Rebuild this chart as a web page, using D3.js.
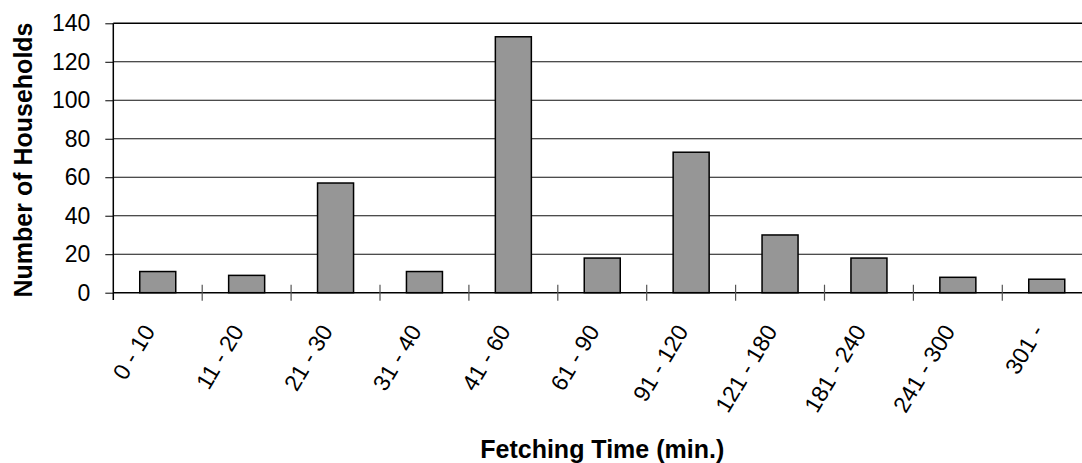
<!DOCTYPE html>
<html>
<head>
<meta charset="utf-8">
<script src="https://cdn.jsdelivr.net/npm/d3@7"></script>
<style>
  html, body { margin: 0; padding: 0; background: #fff; }
  svg { display: block; font-family: "Liberation Sans", Arial, sans-serif; }
</style>
</head>
<body>
<svg id="chart" width="1082" height="463"></svg>
<script>
const categories = ["0 - 10", "11 - 20", "21 - 30", "31 - 40", "41 - 60", "61 - 90", "91 - 120", "121 - 180", "181 - 240", "241 - 300", "301 -"];
const households = [11, 9, 57, 11, 133, 18, 73, 30, 18, 8, 7];
const yTicks = [0, 20, 40, 60, 80, 100, 120, 140];
const xTitle = "Fetching Time (min.)";
const yTitle = "Number of Households";

(function () {
const svg = d3.select("#chart");
const pLeft = 113.3, pRight = 1091.2, pTop = 23.3, pBottom = 292.7;

const x = d3.scaleBand().domain(categories).range([pLeft, pRight])
  .paddingInner(0.595).paddingOuter(0.2975);
const step = x.step();
const y = d3.scaleLinear().domain([0, 140]).range([pBottom, pTop]);

// gridlines
svg.append("g").selectAll("line").data(yTicks.filter(d => d > 0)).join("line")
  .attr("x1", pLeft).attr("x2", 1082)
  .attr("y1", d => y(d)).attr("y2", d => y(d))
  .attr("stroke", d => d === 140 ? "#000" : "#111")
  .attr("stroke-width", d => d === 140 ? 1.6 : 1.1);

// y axis
const yAxis = d3.axisLeft(y).tickValues(yTicks).tickSize(8).tickPadding(15);
const gy = svg.append("g").attr("transform", `translate(${pLeft},0)`).call(yAxis);
gy.select(".domain").remove();
gy.selectAll(".tick line").attr("stroke", "#000");
gy.selectAll(".tick text").attr("font-size", 23).attr("fill", "#000")
  .attr("font-family", "'Liberation Sans', Arial, sans-serif");

// bars
svg.append("g").selectAll("rect").data(households).join("rect")
  .attr("x", (d, i) => x(categories[i]))
  .attr("width", x.bandwidth())
  .attr("y", d => y(d))
  .attr("height", d => y(0) - y(d))
  .attr("fill", "#969696")
  .attr("stroke", "#000")
  .attr("stroke-width", 1.5);

// x axis line
svg.append("line").attr("x1", pLeft).attr("x2", 1082)
  .attr("y1", pBottom).attr("y2", pBottom).attr("stroke", "#000").attr("stroke-width", 1.5);
// y axis line
svg.append("line").attr("x1", pLeft).attr("x2", pLeft)
  .attr("y1", pTop).attr("y2", 300).attr("stroke", "#000").attr("stroke-width", 1.5);

// category boundary ticks
const boundaries = categories.slice(1).map(c => x(c) - step * x.paddingInner() / 2);
svg.append("g").selectAll("line").data(boundaries).join("line")
  .attr("x1", d => d).attr("x2", d => d)
  .attr("y1", pBottom - 8).attr("y2", pBottom + 8)
  .attr("stroke", "#555").attr("stroke-width", 1.2);

// x tick labels
svg.append("g").selectAll("text").data(categories).join("text")
  .attr("transform", d => `translate(${x(d) + x.bandwidth() / 2 - 2},331) rotate(-59)`)
  .attr("text-anchor", "end")
  .attr("font-size", 23)
  .attr("fill", "#000")
  .text(d => d);

// axis titles
svg.append("text")
  .attr("x", (pLeft + pRight) / 2).attr("y", 457.5)
  .attr("text-anchor", "middle").attr("font-size", 25).attr("font-weight", "bold")
  .text(xTitle);

svg.append("text")
  .attr("transform", `translate(32,${(pTop + pBottom) / 2 + 2}) rotate(-90)`)
  .attr("text-anchor", "middle").attr("font-size", 25).attr("font-weight", "bold")
  .text(yTitle);
})();
</script>
</body>
</html>
